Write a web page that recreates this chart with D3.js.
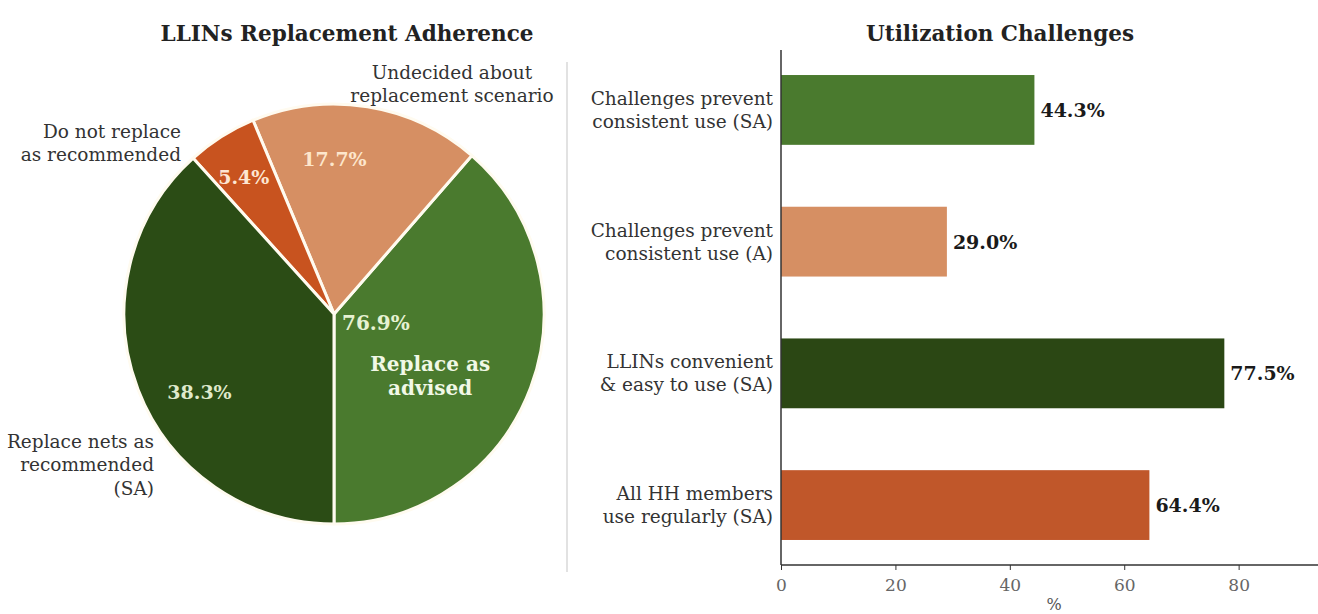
<!DOCTYPE html>
<html>
<head>
<meta charset="utf-8">
<script src="https://cdn.jsdelivr.net/npm/d3@7"></script>
<style>
  html, body { margin: 0; padding: 0; background: #ffffff; }
  svg { display: block; }
  text { font-family: "DejaVu Serif", "Liberation Serif", serif; }
</style>
</head>
<body>
<svg id="chart" width="1318" height="614"></svg>
<script>
// ---- Pie: LLINs replacement adherence (percent of households) ----
const pieLabels = ["Replace as\nadvised", "Undecided about\nreplacement scenario", "Do not replace\nas recommended", "Replace nets as\nrecommended\n(SA)"];
const pieValues = [38.6, 17.7, 5.4, 38.3];
const pieColors = ["#4a7a2e", "#d68f63", "#c8531f", "#2b4c15"];
const adviseTotal = 76.9; // replace as advised, all agreement levels

// ---- Bars: utilization challenges ----
const barCategories = ["Challenges prevent\nconsistent use (SA)", "Challenges prevent\nconsistent use (A)", "LLINs convenient\n& easy to use (SA)", "All HH members\nuse regularly (SA)"];
const barValues = [44.3, 29.0, 77.5, 64.4];
const barColors = ["#4a7a2e", "#d68f63", "#2b4714", "#c0572a"];
const xTicks = [0, 20, 40, 60, 80];

const svg = d3.select("#chart");
const fmtPct = d => d3.format(".1f")(d) + "%";

// ---------- pie panel ----------
const cx = 334, cy = 314, R = 210;
const gPie = svg.append("g").attr("transform", `translate(${cx},${cy})`);

// slices run counter-clockwise, starting from six o'clock
const pie = d3.pie().sort(null).value(d => d).startAngle(Math.PI).endAngle(-Math.PI);
const arcs = pie(pieValues);
const arc = d3.arc().innerRadius(0).outerRadius(R);

gPie.selectAll("path.slice").data(arcs).join("path")
  .attr("class", "slice")
  .attr("d", arc)
  .attr("fill", (d, i) => pieColors[i])
  .attr("stroke", "#fffbf0")
  .attr("stroke-width", 3)
  .attr("stroke-linejoin", "round");

function polar(a, r) { return [r * Math.sin(a), -r * Math.cos(a)]; }
const mid = d => (d.startAngle + d.endAngle) / 2;
const deg = Math.PI / 180;

// percentage labels on the smaller slices (angle nudge, radius factor)
const pctColors = [null, "#fde6cc", "#fde6d2", "#dfe9cb"];
const pctPlace = [null, [-9 * deg, 0.74], [-1 * deg, 0.78], [-9 * deg, 0.74]];
arcs.forEach((d, i) => {
  if (i === 0) return;
  const [x, y] = polar(mid(d) + pctPlace[i][0], R * pctPlace[i][1]);
  gPie.append("text")
    .attr("x", x).attr("y", y)
    .attr("text-anchor", "middle").attr("dominant-baseline", "central")
    .attr("font-size", 19).attr("font-weight", "bold")
    .attr("fill", pctColors[i])
    .text(fmtPct(pieValues[i]));
});

// combined share for the "replace as advised" wedge
gPie.append("text")
  .attr("x", 8).attr("y", 9)
  .attr("text-anchor", "start").attr("dominant-baseline", "central")
  .attr("font-size", 20).attr("font-weight", "bold")
  .attr("fill", "#e6f2d2")
  .text(fmtPct(adviseTotal));

{
  const [x, y] = polar(mid(arcs[0]) + 0.2, R * 0.54);
  const t = gPie.append("text")
    .attr("text-anchor", "middle")
    .attr("font-size", 20).attr("font-weight", "bold")
    .attr("fill", "#f1f8e6");
  pieLabels[0].split("\n").forEach((ln, k) => {
    t.append("tspan").attr("x", x).attr("y", y - 10 + k * 24)
      .attr("dominant-baseline", "central").text(ln);
  });
}

// outside category labels
const outside = [
  { i: 1, x: 118, y: -242, anchor: "middle" },
  { i: 2, x: -153, y: -183, anchor: "end" },
  { i: 3, x: -180, y: 127, anchor: "end" }
];
outside.forEach(o => {
  const t = gPie.append("text")
    .attr("text-anchor", o.anchor)
    .attr("font-size", 18.5).attr("fill", "#333");
  pieLabels[o.i].split("\n").forEach((ln, k) => {
    t.append("tspan").attr("x", o.x).attr("y", o.y + k * 23.5)
      .attr("dominant-baseline", "central").text(ln);
  });
});

svg.append("text")
  .attr("x", 347).attr("y", 33)
  .attr("text-anchor", "middle").attr("dominant-baseline", "central")
  .attr("font-size", 21.5).attr("font-weight", "bold").attr("fill", "#222")
  .text("LLINs Replacement Adherence");

// divider between the two panels
svg.append("line")
  .attr("x1", 567).attr("x2", 567).attr("y1", 62).attr("y2", 572)
  .attr("stroke", "#cfcfcf").attr("stroke-width", 1.2);

// ---------- bar panel ----------
const x = d3.scaleLinear().domain([0, 93]).range([781, 1313]);
const y = d3.scaleBand().domain(barCategories).range([50, 565]).paddingInner(0.47).paddingOuter(0.19);

svg.append("g").selectAll("rect").data(barValues).join("rect")
  .attr("x", x(0))
  .attr("y", (d, i) => y(barCategories[i]))
  .attr("width", d => x(d) - x(0))
  .attr("height", y.bandwidth())
  .attr("fill", (d, i) => barColors[i]);

svg.append("g").selectAll("text").data(barValues).join("text")
  .attr("x", d => x(d) + 6)
  .attr("y", (d, i) => y(barCategories[i]) + y.bandwidth() / 2)
  .attr("dominant-baseline", "central")
  .attr("font-size", 19).attr("font-weight", "bold").attr("fill", "#1a1a1a")
  .text(fmtPct);

// category labels (two lines each)
barCategories.forEach(c => {
  const lines = c.split("\n");
  const yc = y(c) + y.bandwidth() / 2;
  const t = svg.append("text").attr("text-anchor", "end").attr("font-size", 18.5).attr("fill", "#333");
  lines.forEach((ln, k) => {
    t.append("tspan").attr("x", 773).attr("y", yc + (k - (lines.length - 1) / 2) * 23)
      .attr("dominant-baseline", "central").text(ln);
  });
});

// axes
const xAxis = d3.axisBottom(x).tickValues(xTicks).tickSize(5).tickPadding(9).tickFormat(d3.format("d"));
const gx = svg.append("g").attr("transform", "translate(0,565)").call(xAxis);
gx.select(".domain").attr("stroke", "#333").attr("stroke-width", 1.5).attr("d", "M781,0H1318");
gx.selectAll(".tick line").attr("stroke", "#333");
gx.selectAll(".tick text").attr("font-size", 17).attr("fill", "#666").attr("font-family", "DejaVu Serif, serif");

svg.append("line")
  .attr("x1", 781).attr("x2", 781).attr("y1", 50).attr("y2", 565)
  .attr("stroke", "#333").attr("stroke-width", 1.5);

svg.append("text")
  .attr("x", 1054).attr("y", 604)
  .attr("text-anchor", "middle").attr("dominant-baseline", "central")
  .attr("font-size", 16).attr("fill", "#555")
  .text("%");

svg.append("text")
  .attr("x", 1000).attr("y", 33)
  .attr("text-anchor", "middle").attr("dominant-baseline", "central")
  .attr("font-size", 21.5).attr("font-weight", "bold").attr("fill", "#222")
  .text("Utilization Challenges");
</script>
</body>
</html>
